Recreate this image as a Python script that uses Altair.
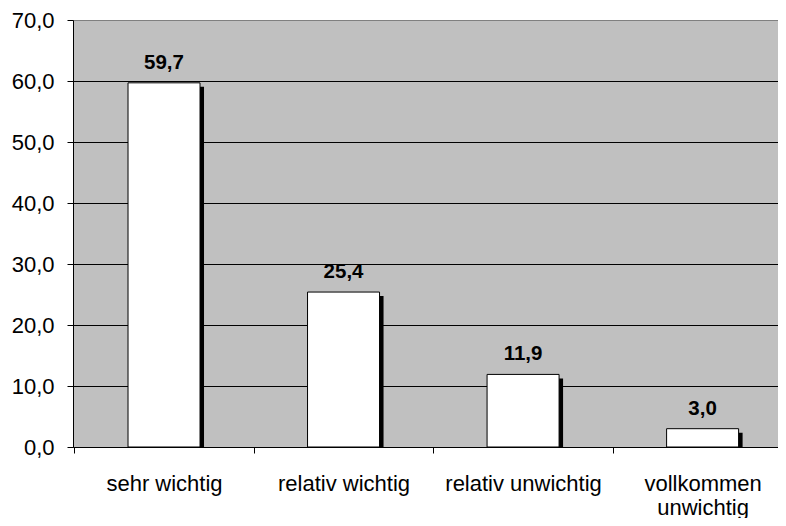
import json
import altair as alt
import pandas as pd

categories = ["sehr wichtig", "relativ wichtig", "relativ unwichtig", "vollkommen unwichtig"]
values = [59.7, 25.4, 11.9, 3.0]
y_ticks = [0, 10, 20, 30, 40, 50, 60, 70]

df = pd.DataFrame({"cat": categories, "value": values, "idx": list(range(len(categories)))})
df["label"] = [f"{v:.1f}".replace(".", ",") for v in values]

# category names as axis labels (long one wrapped on two lines)
label_list = [c.split(" ") if c == "vollkommen unwichtig" else c for c in categories]
label_js = json.dumps(label_list, ensure_ascii=False).replace('"', "'")
band_starts = [i - 0.5 for i in range(len(categories))]

FONT = "Liberation Sans"
FS = 22

xscale = alt.Scale(domain=[-0.507, 3.42], nice=False, zero=False, padding=0)
xenc = alt.X(
    "idx:Q",
    scale=xscale,
    axis=alt.Axis(
        title=None, values=band_starts, labelAngle=0, tickSize=6, labelPadding=37,
        labelOffset=89.75, labelFlush=False, labelOverlap=False, labelBound=False,
        labelBaseline="alphabetic", labelLineHeight=24, labelFontSize=FS, labelFont=FONT,
        labelColor="black", domainColor="black", tickColor="black", grid=False, labelLimit=0,
        labelExpr=f"{label_js}[round(datum.value + 0.5)]",
    ),
)
yscale = alt.Scale(domain=[0, 70], nice=False)
yenc = alt.Y(
    "value:Q",
    scale=yscale,
    axis=alt.Axis(
        title=None, values=y_ticks, tickSize=6, labelPadding=13, labelFontSize=FS,
        labelFont=FONT, labelColor="black", domainColor="black", tickColor="black",
        gridColor={"condition": {"test": "datum.value === 70", "value": "#808080"}, "value": "black"},
        gridOpacity=1,
        labelExpr="replace(format(datum.value, '.1f'), '.', ',')",
    ),
)

base = alt.Chart(df).encode(x=xenc)

shadow = base.mark_bar(color="black", size=72, xOffset=4, yOffset=4, y2Offset=0).encode(
    y=yenc, y2=alt.datum(0)
)
bars = base.mark_bar(fill="white", stroke="black", strokeWidth=1, size=72).encode(
    y=alt.Y("value:Q", scale=yscale)
)
text = base.mark_text(
    fontWeight="bold", fontSize=20.5, font=FONT, dy=-14, baseline="alphabetic", color="black"
).encode(y=alt.Y("value:Q", scale=yscale), text="label:N")

chart = (
    alt.layer(shadow, bars, text)
    .properties(
        width=705,
        height=427,
        autosize=alt.AutoSizeParams(type="none"),
        padding={"left": 65, "top": 12, "right": 0, "bottom": 71},
        background="white",
    )
    .configure_view(fill="#c0c0c0", stroke=None)
)

chart.save("out.html", embed_options={"renderer": "svg", "actions": False})
